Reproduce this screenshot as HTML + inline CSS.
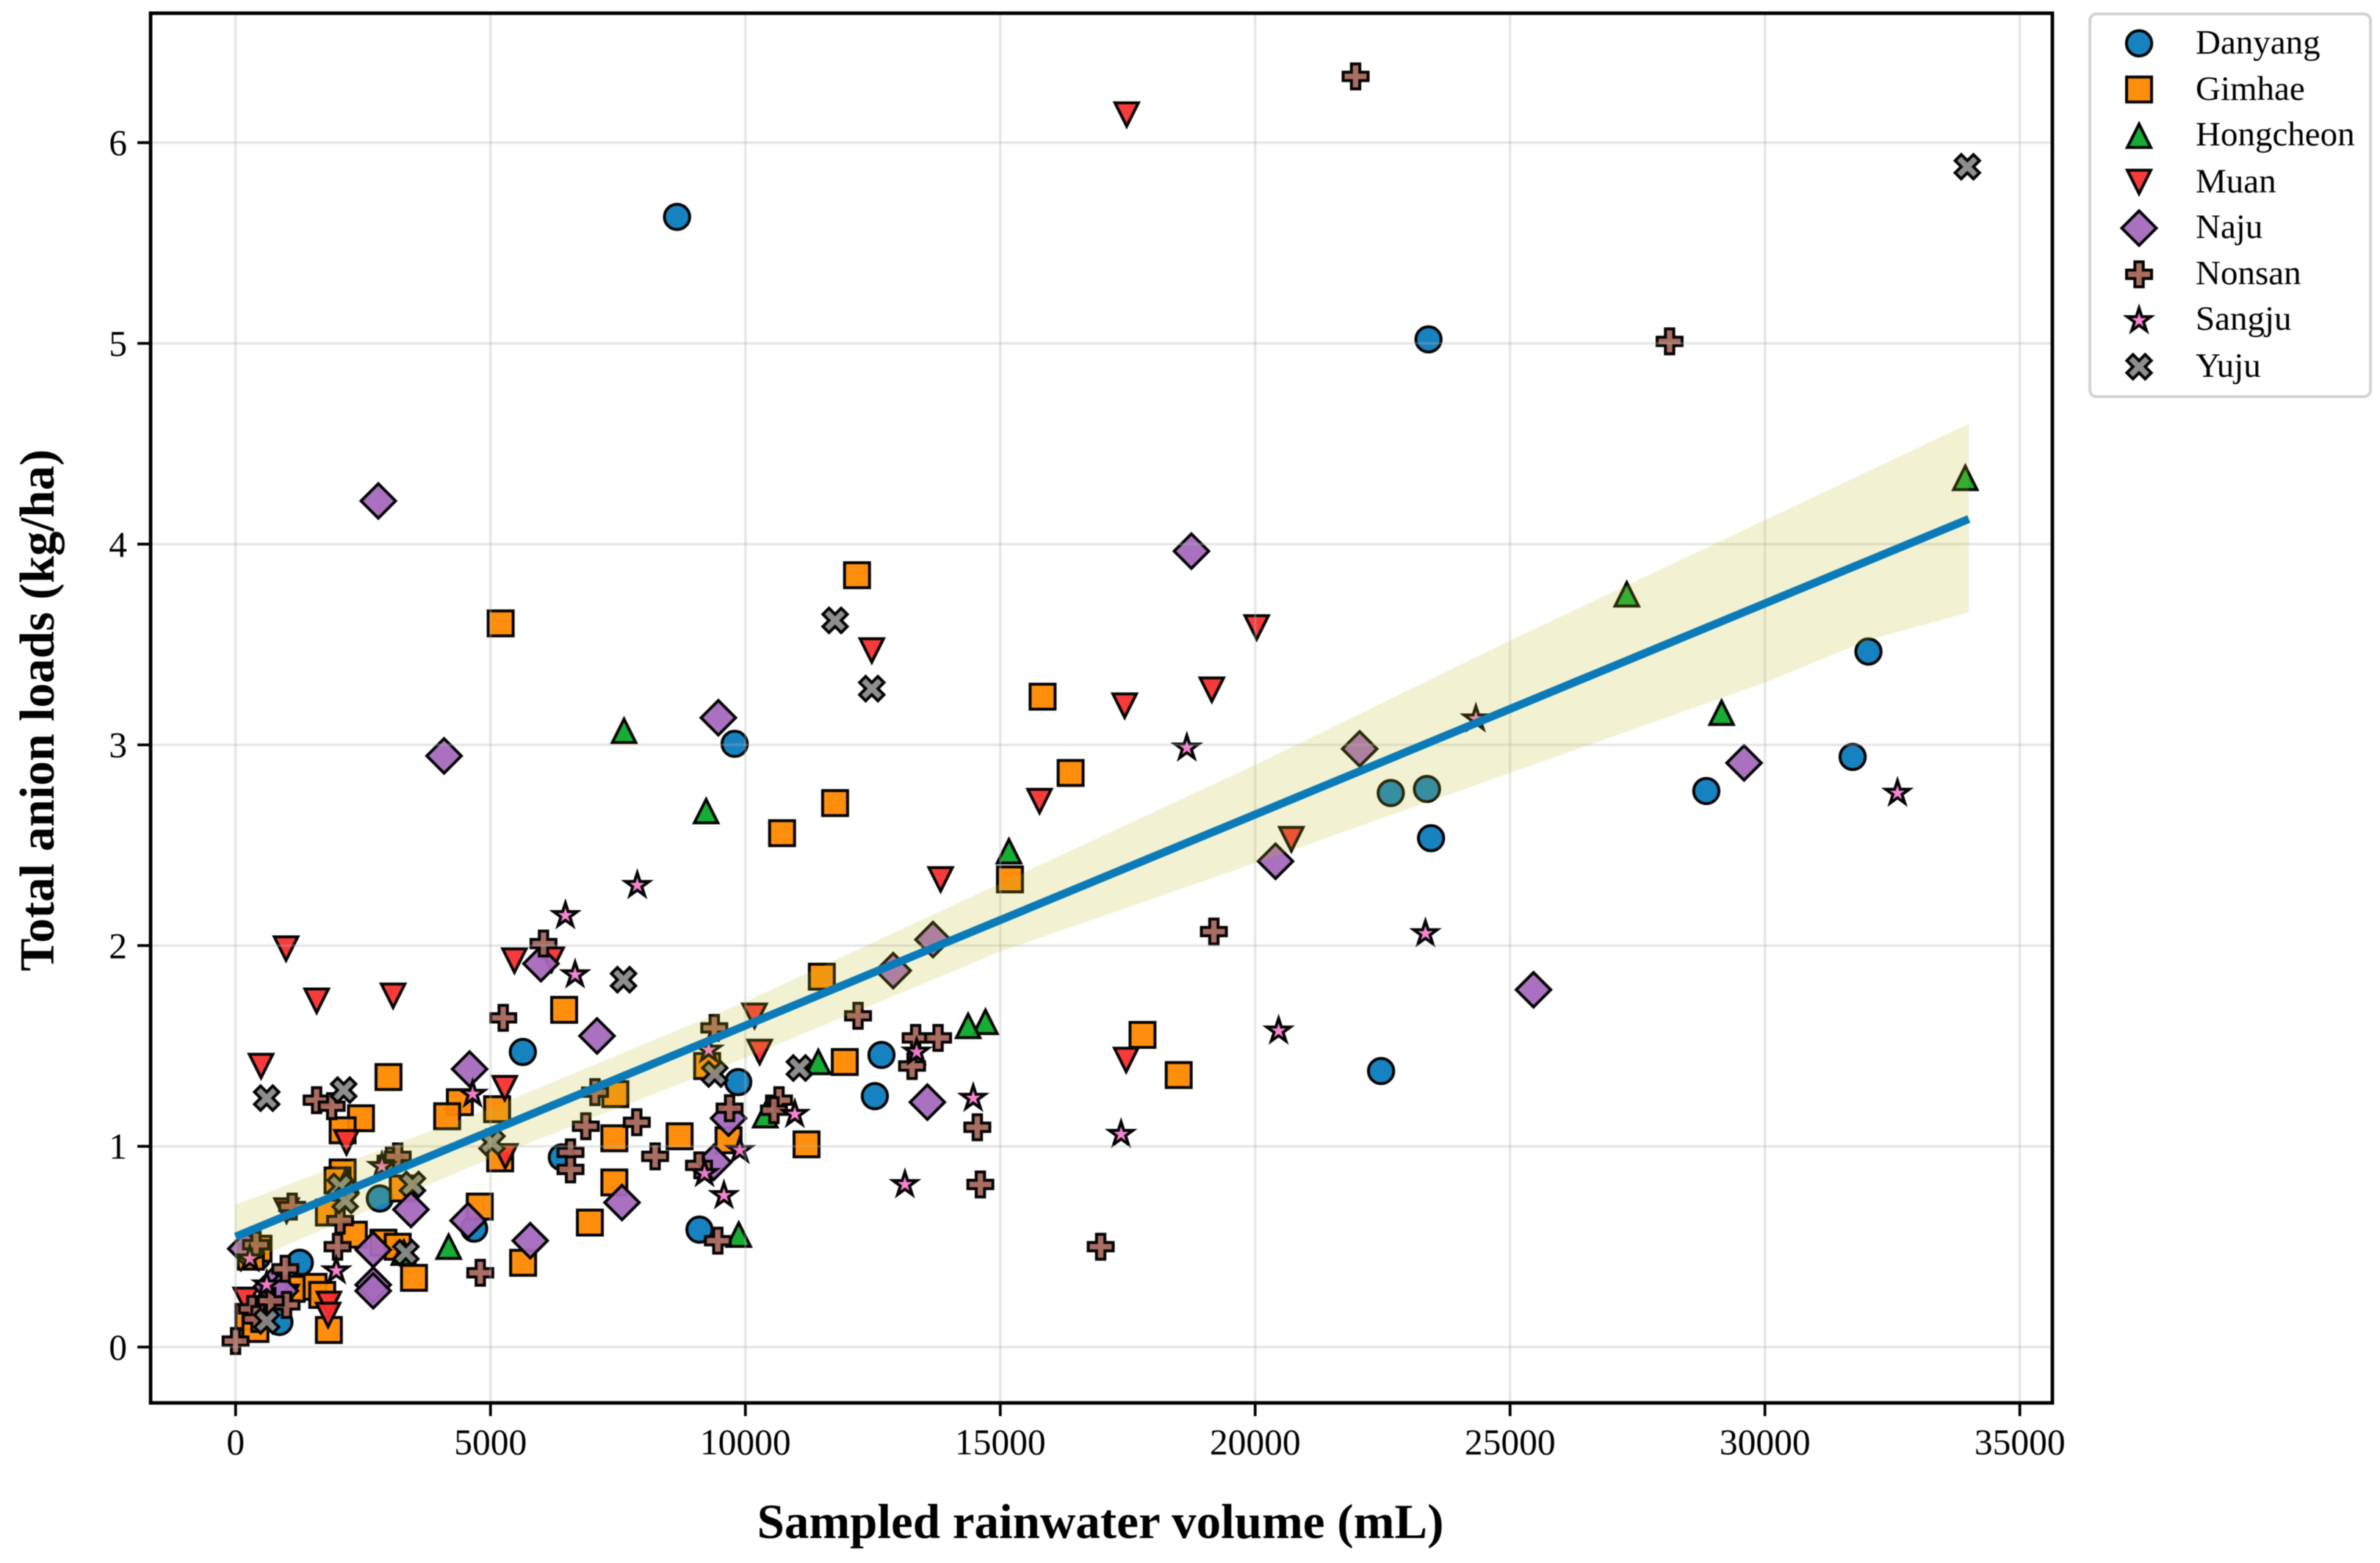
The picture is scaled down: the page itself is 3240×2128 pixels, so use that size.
<!DOCTYPE html>
<html lang="en">
<head>
<meta charset="utf-8">
<title>Total anion loads vs sampled rainwater volume</title>
<style>
html,body{margin:0;padding:0;background:#fff;width:3240px;height:2128px;overflow:hidden}
svg{display:block;filter:blur(0.6px)}
text{font-family:"Liberation Serif",serif;fill:#000}
</style>
</head>
<body>
<svg id="chart" xmlns="http://www.w3.org/2000/svg" width="3240" height="2128" viewBox="0 0 3240 2128">
  <rect x="0" y="0" width="3240" height="2128" fill="#fff"/>
  <g id="markers"></g>
  <g id="grid"></g>
  <path id="band" fill="#bcbd22" fill-opacity="0.2" stroke="none"/>
  <path id="fit" fill="none" stroke="#0a7bb8" stroke-width="11"/>
  <g id="ticks"></g>
  <rect x="205" y="18" width="2589" height="1892" fill="none" stroke="#000" stroke-width="4.8"/>
  <text x="1498" y="2094" text-anchor="middle" font-size="67" font-weight="700">Sampled rainwater volume (mL)</text>
  <text transform="translate(73 967) rotate(-90)" text-anchor="middle" font-size="67" font-weight="700">Total anion loads (kg/ha)</text>
  <g>
    <rect x="2845" y="19" width="382" height="521" rx="9" ry="9" fill="#fff" stroke="#d2d2d2" stroke-width="4"/>
    <g id="legendMarkers"></g>
    <text x="2989" y="73" font-size="47">Danyang</text>
    <text x="2989" y="136" font-size="47">Gimhae</text>
    <text x="2989" y="198" font-size="47">Hongcheon</text>
    <text x="2989" y="262" font-size="47">Muan</text>
    <text x="2989" y="324" font-size="47">Naju</text>
    <text x="2989" y="387" font-size="47">Nonsan</text>
    <text x="2989" y="449" font-size="47">Sangju</text>
    <text x="2989" y="513" font-size="47">Yuju</text>
  </g>
</svg>
<script>
// ---- Data ----
const xTickLabels = [0, 5000, 10000, 15000, 20000, 25000, 30000, 35000];
const yTickLabels = [0, 1, 2, 3, 4, 5, 6];

const danyangX = [8660,23400,32030,9790,31720,28850,22660,23370,23450,22470,12670,12540,5635,9860,6400,2830,4680,9100,1260,430,860];
const danyangY = [5.63,5.02,3.465,3.005,2.94,2.77,2.76,2.78,2.535,1.375,1.455,1.25,1.47,1.32,0.945,0.74,0.59,0.585,0.42,0.45,0.125];

const gimhaeX = [12190,5200,15830,16380,11760,10720,15190,11500,6445,17790,11950,9250,18500,3000,7450,4400,5130,4150,2460,2100,8710,7430,9670,11200,5190,2100,2000,7430,3280,4790,1830,6950,2320,2900,3180,450,300,5640,3500,1530,1100,1700,250,390,1830];
const gimhaeY = [3.845,3.605,3.24,2.86,2.71,2.56,2.33,1.845,1.68,1.555,1.42,1.40,1.355,1.345,1.26,1.22,1.185,1.15,1.14,1.08,1.05,1.04,1.03,1.01,0.94,0.87,0.83,0.82,0.79,0.70,0.67,0.62,0.56,0.52,0.50,0.49,0.45,0.42,0.345,0.30,0.29,0.26,0.15,0.09,0.085];

const hongcheonX = [33930,27290,29150,7620,9230,15170,14710,14370,11430,10390,2170,9870,4180,3300];
const hongcheonY = [4.33,3.75,3.16,3.07,2.67,2.47,1.62,1.60,1.42,1.155,0.83,0.56,0.50,0.47];

const muanX = [17480,20030,12480,19150,17440,15770,20710,13830,990,5470,6200,3090,1590,10180,10280,17470,500,5280,2175,5290,1000,1000,200,1830,1815];
const muanY = [6.14,3.585,3.47,3.275,3.195,2.72,2.53,2.33,1.985,1.925,1.93,1.75,1.725,1.65,1.47,1.43,1.40,1.29,1.02,0.95,0.68,0.25,0.235,0.215,0.16];

const najuX = [2800,18750,9470,22050,4090,29590,20400,13680,12900,5990,25460,7090,4590,13570,9670,9380,7580,3440,4560,5780,2700,200,2700,2700,700,880];
const najuY = [4.215,3.965,3.135,2.98,2.945,2.91,2.42,2.03,1.875,1.91,1.78,1.55,1.385,1.22,1.14,0.92,0.72,0.685,0.63,0.53,0.485,0.49,0.31,0.28,0.30,0.28];

const nonsanX = [21970,28130,19190,6040,5250,12210,9390,13340,13780,13270,10660,10560,1590,1885,7050,9690,7870,6870,14550,6570,3040,3180,8230,9090,6570,14610,1110,2050,400,2000,16970,9460,975,4800,1000,690,320,400,0];
const nonsanY = [6.33,5.01,2.07,2.01,1.64,1.65,1.59,1.54,1.54,1.40,1.23,1.18,1.23,1.20,1.27,1.19,1.12,1.10,1.095,0.97,0.93,0.95,0.95,0.905,0.885,0.81,0.70,0.63,0.51,0.50,0.50,0.53,0.39,0.37,0.21,0.23,0.19,0.14,0.03];

const sangjuX = [32600,24330,18660,7880,6470,23340,6660,20460,9280,13360,4650,14470,10970,17370,9890,2870,9200,13130,9580,280,1975,610];
const sangjuY = [2.76,3.13,2.985,2.30,2.15,2.06,1.855,1.575,1.48,1.47,1.26,1.24,1.16,1.06,0.98,0.90,0.865,0.81,0.755,0.44,0.38,0.31];

const yujuX = [33970,11760,12480,7610,11060,9400,2120,610,5030,3470,2050,2150,3340,610];
const yujuY = [5.88,3.62,3.28,1.83,1.39,1.36,1.28,1.24,1.02,0.81,0.80,0.73,0.47,0.13];

const fitX = [0, 34000];
const fitY = [0.55, 4.125];
const bandX = [0, 5000, 10000, 15000, 20000, 25000, 30000, 32000, 34000];
const bandUpper = [0.71, 1.19, 1.72, 2.31, 2.90, 3.52, 4.12, 4.36, 4.60];
const bandLower = [0.40, 0.94, 1.44, 1.97, 2.41, 2.86, 3.31, 3.52, 3.66];

// ---- Axis functions ----
function xScale(v) { return 320.7 + v * 0.0694; }
function yScale(v) { return 1834 - v * 273.3; }

const SVGNS = 'http://www.w3.org/2000/svg';

function pathFor(shape, cx, cy) {
  const pts = [];
  if (shape === 'square') {
    const h = 17;
    pts.push([-h,-h],[h,-h],[h,h],[-h,h]);
  } else if (shape === 'up') {
    const h = 16;
    pts.push([0,-h],[h,h],[-h,h]);
  } else if (shape === 'down') {
    const h = 16;
    pts.push([0,h],[h,-h],[-h,-h]);
  } else if (shape === 'diamond') {
    const h = 23.5;
    pts.push([0,-h],[h,0],[0,h],[-h,0]);
  } else if (shape === 'plus') {
    const h = 17, a = 5.7;
    pts.push([-a,-h],[a,-h],[a,-a],[h,-a],[h,a],[a,a],[a,h],[-a,h],[-a,a],[-h,a],[-h,-a],[-a,-a]);
  } else if (shape === 'star') {
    const R = 17, r = R * 0.381966;
    for (let i = 0; i < 10; i++) {
      const rad = i % 2 ? r : R;
      const ang = -Math.PI / 2 + i * Math.PI / 5;
      pts.push([rad * Math.cos(ang), rad * Math.sin(ang)]);
    }
  } else if (shape === 'x') {
    const u = 8.3;
    [[-1,-2],[0,-1],[1,-2],[2,-1],[1,0],[2,1],[1,2],[0,1],[-1,2],[-2,1],[-1,0],[-2,-1]]
      .forEach(function (p) { pts.push([p[0] * u, p[1] * u]); });
  }
  return 'M' + pts.map(function (p) {
    return (cx + p[0]).toFixed(2) + ' ' + (cy + p[1]).toFixed(2);
  }).join('L') + 'Z';
}

function drawMarker(parent, shape, color, cx, cy) {
  let el;
  if (shape === 'circle') {
    el = document.createElementNS(SVGNS, 'circle');
    el.setAttribute('cx', cx);
    el.setAttribute('cy', cy);
    el.setAttribute('r', 17.2);
  } else {
    el = document.createElementNS(SVGNS, 'path');
    el.setAttribute('d', pathFor(shape, cx, cy));
  }
  el.setAttribute('fill', color);
  el.setAttribute('fill-opacity', '0.95');
  el.setAttribute('stroke', '#050505');
  el.setAttribute('stroke-width', '4');
  el.setAttribute('stroke-linejoin', 'miter');
  el.setAttribute('stroke-miterlimit', '10');
  parent.appendChild(el);
  return el;
}

// ---- Series ----
const seriesList = [
  { key: 'danyang', xs: danyangX, ys: danyangY, color: '#0a7cbd', shape: 'circle' },
  { key: 'gimhae', xs: gimhaeX, ys: gimhaeY, color: '#ff8800', shape: 'square' },
  { key: 'hongcheon', xs: hongcheonX, ys: hongcheonY, color: '#0aa82a', shape: 'up' },
  { key: 'muan', xs: muanX, ys: muanY, color: '#f92f2f', shape: 'down' },
  { key: 'naju', xs: najuX, ys: najuY, color: '#a569bd', shape: 'diamond' },
  { key: 'nonsan', xs: nonsanX, ys: nonsanY, color: '#a5655a', shape: 'plus' },
  { key: 'sangju', xs: sangjuX, ys: sangjuY, color: '#f77ccf', shape: 'star' },
  { key: 'yuju', xs: yujuX, ys: yujuY, color: '#888888', shape: 'x' }
];

const markersG = document.getElementById('markers');
seriesList.forEach(function (s) {
  const g = document.createElementNS(SVGNS, 'g');
  
  
  markersG.appendChild(g);
  s.xs.forEach(function (xv, i) {
    const m = drawMarker(g, s.shape, s.color, xScale(xv), yScale(s.ys[i]));
    
    
  });
});

// ---- Grid and ticks ----
const gridG = document.getElementById('grid');
const ticksG = document.getElementById('ticks');

function addLine(parent, x1, y1, x2, y2, stroke, width, opacity) {
  const l = document.createElementNS(SVGNS, 'line');
  l.setAttribute('x1', x1);
  l.setAttribute('y1', y1);
  l.setAttribute('x2', x2);
  l.setAttribute('y2', y2);
  l.setAttribute('stroke', stroke);
  l.setAttribute('stroke-width', width);
  if (opacity) l.setAttribute('stroke-opacity', opacity);
  parent.appendChild(l);
  return l;
}

xTickLabels.forEach(function (v) {
  const px = xScale(v);
  const gl = addLine(gridG, px, 18, px, 1910, '#b0b0b0', 3.4, 0.32);
  
  
  const tk = addLine(ticksG, px, 1910, px, 1928, '#000', 3.8);
  
  
  const t = document.createElementNS(SVGNS, 'text');
  t.setAttribute('x', px);
  t.setAttribute('y', 1980);
  t.setAttribute('text-anchor', 'middle');
  t.setAttribute('font-size', '49.5');
  t.textContent = v;
  
  
  ticksG.appendChild(t);
});

yTickLabels.forEach(function (v) {
  const py = yScale(v);
  const gl = addLine(gridG, 205, py, 2794, py, '#b0b0b0', 3.4, 0.32);
  
  
  const tk = addLine(ticksG, 187, py, 205, py, '#000', 3.8);
  
  
  const t = document.createElementNS(SVGNS, 'text');
  t.setAttribute('x', 173);
  t.setAttribute('y', py + 17);
  t.setAttribute('text-anchor', 'end');
  t.setAttribute('font-size', '49.5');
  t.textContent = v;
  
  
  ticksG.appendChild(t);
});

// ---- Fit line and confidence band ----
let bandD = '';
bandX.forEach(function (xv, i) {
  bandD += (i ? 'L' : 'M') + xScale(xv).toFixed(1) + ' ' + yScale(bandUpper[i]).toFixed(1);
});
for (let i = bandX.length - 1; i >= 0; i--) {
  bandD += 'L' + xScale(bandX[i]).toFixed(1) + ' ' + yScale(bandLower[i]).toFixed(1);
}
document.getElementById('band').setAttribute('d', bandD + 'Z');

let fitD = '';
fitX.forEach(function (xv, i) {
  fitD += (i ? 'L' : 'M') + xScale(xv).toFixed(1) + ' ' + yScale(fitY[i]).toFixed(1);
});
document.getElementById('fit').setAttribute('d', fitD);

// ---- Legend markers ----
const legendG = document.getElementById('legendMarkers');
seriesList.forEach(function (s, i) {
  const m = drawMarker(legendG, s.shape, s.color, 2912, 59 + i * 62.9);
  
  
});
</script>
</body>
</html>
